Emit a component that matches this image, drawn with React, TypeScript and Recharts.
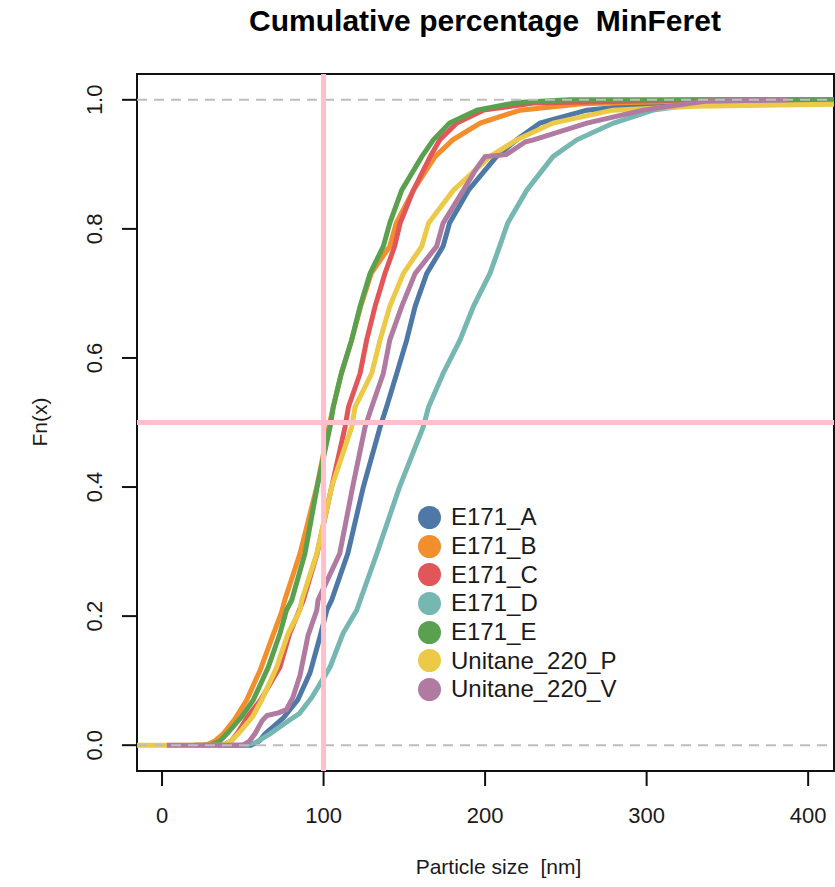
import { LineChart, Line, XAxis, YAxis, ReferenceLine, ReferenceArea } from 'recharts';

// ECDF of MinFeret per sample: [particle size nm, Fn(x)]
const E171_A: [number, number][] = [
  [25, 0], [55, 0], [60, 0.006], [64, 0.018], [75, 0.042], [84, 0.07], [91.6, 0.112],
  [97.8, 0.168], [102, 0.209], [105, 0.225], [115, 0.297], [124.6, 0.4], [135, 0.493], [139, 0.524],
  [145.3, 0.576], [151.5, 0.628], [156.7, 0.68], [163.9, 0.731], [174, 0.773], [178, 0.809],
  [189.7, 0.86], [207, 0.912], [219.5, 0.938], [234, 0.964], [263, 0.984], [300, 0.993],
  [360, 0.997], [410, 1], [416, 1],
];
const E171_B: [number, number][] = [
  [20, 0], [27, 0], [33, 0.007], [38, 0.018], [45, 0.04], [52.4, 0.07], [60.7, 0.116], [68, 0.166],
  [74, 0.206], [76, 0.225], [85.4, 0.297], [95.8, 0.4], [103, 0.49], [106, 0.524], [111, 0.576],
  [117.4, 0.628], [123, 0.68], [129.5, 0.731], [141, 0.773], [145, 0.809], [155.6, 0.86],
  [169, 0.912], [180, 0.938], [197, 0.964], [221.7, 0.984], [260, 0.994], [330, 0.998],
  [389, 1], [416, 1],
];
const E171_C: [number, number][] = [
  [25, 0], [38, 0], [43, 0.007], [47, 0.02], [53, 0.044], [61, 0.07], [73, 0.121], [79, 0.173],
  [85, 0.209], [87.5, 0.225], [96, 0.297], [105, 0.4], [113.3, 0.493], [115.4, 0.524], [122.6, 0.576],
  [126.7, 0.628], [131.9, 0.68], [138, 0.731], [144, 0.773], [147.4, 0.809], [155.6, 0.86],
  [166, 0.912], [172, 0.938], [182.5, 0.964], [199, 0.984], [230, 0.995], [335, 1], [416, 1],
];
const E171_D: [number, number][] = [
  [50, 0], [58, 0.004], [67, 0.018], [79, 0.039], [85, 0.049], [92.7, 0.074], [99, 0.1],
  [104, 0.121], [112, 0.173], [120.5, 0.209], [133, 0.297], [147, 0.4], [161.7, 0.493], [165, 0.524],
  [174, 0.576], [184.5, 0.628], [192.8, 0.68], [203, 0.731], [209, 0.773], [214, 0.809],
  [225.8, 0.86], [242, 0.912], [256.8, 0.938], [279.5, 0.964], [304, 0.984], [337, 0.995],
  [380, 1], [416, 1],
];
const E171_E: [number, number][] = [
  [20, 0], [30, 0], [36, 0.007], [41, 0.02], [49.3, 0.044], [56.5, 0.07], [65.8, 0.121], [73, 0.173],
  [77, 0.209], [80.3, 0.225], [88.5, 0.297], [96, 0.4], [104, 0.493], [106, 0.524], [111, 0.576],
  [117.4, 0.628], [122.6, 0.68], [128.8, 0.731], [137, 0.773], [141, 0.809], [148.4, 0.86],
  [160.8, 0.912], [168, 0.938], [178, 0.964], [195, 0.984], [220, 0.996], [252, 1], [416, 1],
];
const UNITANE_220_P: [number, number][] = [
  [-16, 0], [38, 0], [43, 0.007], [48, 0.02], [56, 0.044], [61.7, 0.07], [71, 0.121], [78, 0.173],
  [85.4, 0.209], [86.5, 0.225], [95.8, 0.297], [105, 0.4], [117.4, 0.493], [119.5, 0.524],
  [129.8, 0.576], [135, 0.628], [141, 0.68], [149.4, 0.731], [160.8, 0.773], [165, 0.809],
  [180.4, 0.86], [203, 0.912], [219.5, 0.938], [242, 0.964], [279, 0.984], [330, 0.99],
  [416, 0.993],
];
const UNITANE_220_V: [number, number][] = [
  [3, 0], [50, 0], [54, 0.006], [57.6, 0.018], [62, 0.038], [65, 0.046], [72, 0.05], [77, 0.055],
  [81, 0.074], [85.4, 0.108], [90.4, 0.17], [95.8, 0.209], [96.6, 0.225], [110, 0.297], [118, 0.4],
  [125.7, 0.493], [129.8, 0.524], [137, 0.576], [141, 0.628], [148.4, 0.68], [156.7, 0.731],
  [170, 0.773], [174, 0.809], [186.6, 0.86], [195, 0.895], [200, 0.912], [213, 0.915], [225, 0.935],
  [230, 0.938], [263, 0.964], [298, 0.984], [337, 0.998], [387, 1],
];

const SERIES_NAMES = ['E171_A', 'E171_B', 'E171_C', 'E171_D', 'E171_E', 'Unitane_220_P', 'Unitane_220_V'];
const SERIES_VALUES = [E171_A, E171_B, E171_C, E171_D, E171_E, UNITANE_220_P, UNITANE_220_V];
const SERIES_COLORS = ['#4E79A7', '#F28E2B', '#E15759', '#76B7B2', '#59A14F', '#EDC948', '#B07AA1'];

const X_TICKS = [0, 100, 200, 300, 400];
const Y_TICKS = [0, 0.2, 0.4, 0.6, 0.8, 1];
const X_DOMAIN = [-15.5, 416];
const Y_DOMAIN = [-0.04, 1.04];

const FONT = '"Liberation Sans", Arial, sans-serif';
const TEXT = '#1a1a1a';

const XTick = ({ x, payload }: any) => (
  <text x={x} y={815} textAnchor="middle" dominantBaseline="central" fontSize={22} fontFamily={FONT} fill={TEXT}>
    {payload.value}
  </text>
);

const YTick = ({ y, payload }: any) => (
  <text
    x={95}
    y={y}
    transform={`rotate(-90 95 ${y})`}
    textAnchor="middle"
    dominantBaseline="central"
    fontSize={22}
    fontFamily={FONT}
    fill={TEXT}
  >
    {Number(payload.value).toFixed(1)}
  </text>
);

export default function App() {
  return (
    <div style={{ position: 'absolute', left: 0, top: 0, width: 835, height: 887, background: '#fff', fontFamily: FONT }}>
      <LineChart width={835} height={887} margin={{ top: 74, right: 1, left: 0, bottom: 0 }}>
        <XAxis
          type="number"
          dataKey="x"
          domain={X_DOMAIN}
          allowDataOverflow
          ticks={X_TICKS}
          height={116}
          axisLine={false}
          tickSize={15}
          tickLine={{ stroke: '#111', strokeWidth: 2 }}
          tick={<XTick />}
        />
        <YAxis
          type="number"
          domain={Y_DOMAIN}
          allowDataOverflow
          ticks={Y_TICKS}
          width={137}
          axisLine={false}
          tickSize={15}
          tickLine={{ stroke: '#111', strokeWidth: 2 }}
          tick={<YTick />}
        />
        {SERIES_VALUES.map((pts, i) => (
          <Line
            key={SERIES_NAMES[i]}
            name={SERIES_NAMES[i]}
            data={pts.map(([x, y]) => ({ x, y }))}
            dataKey="y"
            type="linear"
            stroke={SERIES_COLORS[i]}
            strokeWidth={5}
            dot={false}
            activeDot={false}
            isAnimationActive={false}
          />
        ))}
        <ReferenceLine y={0} stroke="#bdbdbd" strokeWidth={2} strokeDasharray="10 7" />
        <ReferenceLine y={1} stroke="#bdbdbd" strokeWidth={2} strokeDasharray="10 7" />
        <ReferenceLine x={100} stroke="#FFC0CB" strokeWidth={5} />
        <ReferenceLine y={0.5} stroke="#FFC0CB" strokeWidth={5} />
        <ReferenceArea
          x1={X_DOMAIN[0]}
          x2={X_DOMAIN[1]}
          y1={Y_DOMAIN[0]}
          y2={Y_DOMAIN[1]}
          fill="none"
          fillOpacity={0}
          stroke="#111"
          strokeWidth={2}
        />
      </LineChart>

      <div style={{ position: 'absolute', left: 0, width: 970, top: 4, textAlign: 'center', fontSize: 30, fontWeight: 'bold', color: '#000' }}>
        Cumulative percentage&nbsp; MinFeret
      </div>
      <div style={{ position: 'absolute', left: 0, width: 997, top: 855, textAlign: 'center', fontSize: 21, color: TEXT }}>
        Particle size&nbsp; [nm]
      </div>
      <div
        style={{
          position: 'absolute',
          left: 40,
          top: 422,
          transform: 'translate(-50%, -50%) rotate(-90deg)',
          fontSize: 21,
          color: TEXT,
          whiteSpace: 'nowrap',
        }}
      >
        Fn(x)
      </div>

      <div style={{ position: 'absolute', left: 418, top: 503 }}>
        {SERIES_NAMES.map((name, i) => (
          <div key={name} style={{ display: 'flex', alignItems: 'center', height: 28.7 }}>
            <span
              style={{
                width: 23,
                height: 23,
                borderRadius: '50%',
                background: SERIES_COLORS[i],
                display: 'inline-block',
                marginRight: 10,
              }}
            />
            <span style={{ fontSize: 24, color: TEXT }}>{name}</span>
          </div>
        ))}
      </div>
    </div>
  );
}
